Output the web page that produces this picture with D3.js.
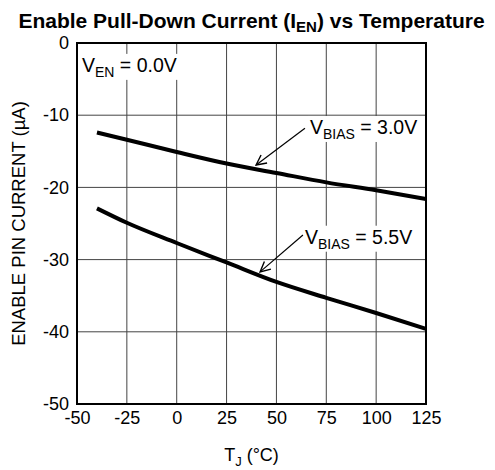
<!DOCTYPE html>
<html>
<head>
<meta charset="utf-8">
<script src="https://cdn.jsdelivr.net/npm/d3@7"></script>
<style>
  body { margin: 0; background: #fff; }
  text { font-family: "Liberation Sans", Arial, sans-serif; fill: #000; }
</style>
</head>
<body>
<svg id="chart" width="495" height="470"></svg>
<script>
// junction temperature (°C) and enable pin current (µA)
const temps = [-40, -25, 0, 25, 50, 75, 100, 125];
const iBias30 = [-12.4, -13.4, -15.1, -16.7, -18.0, -19.3, -20.4, -21.6];
const iBias55 = [-22.9, -24.9, -27.7, -30.4, -33.1, -35.3, -37.4, -39.6];
const xTicks = [-50, -25, 0, 25, 50, 75, 100, 125];
const yTicks = [0, -10, -20, -30, -40, -50];

// annotations, in data units: label position, arrow [tail T, tail I, tip T, tip I]
const notes = [
  {name: 'BIAS', value: ' = 3.0V', at: [66.8, -12.6], arrow: [64.3, -11.8, 39.8, -16.9]},
  {name: 'BIAS', value: ' = 5.5V', at: [64.3, -27.8], arrow: [63.3, -26.6, 41.8, -31.7]},
  {name: 'EN', value: ' = 0.0V', at: [-47.5, -4.0], arrow: null}
];

const margin = {top: 43, left: 77};
const width = 349, height = 361;

const svg = d3.select('#chart');
const chart = svg.append('g')
  .attr('transform', `translate(${margin.left},${margin.top})`);

const x = d3.scaleLinear().domain([-50, 125]).range([0, width]);
const y = d3.scaleLinear().domain([-50, 0]).range([height, 0]);

// grid
chart.append('g')
  .selectAll('line')
  .data(xTicks.slice(1, -1))
  .enter().append('line')
  .attr('x1', d => x(d)).attr('x2', d => x(d))
  .attr('y1', 0).attr('y2', height)
  .attr('stroke', '#444').attr('stroke-width', 1);

chart.append('g')
  .selectAll('line')
  .data(yTicks.slice(1, -1))
  .enter().append('line')
  .attr('y1', d => y(d)).attr('y2', d => y(d))
  .attr('x1', 0).attr('x2', width)
  .attr('stroke', '#444').attr('stroke-width', 1);

// axes (labels only), plain hyphen for negatives
const fmt = d => String(d);
const xAxis = chart.append('g')
  .attr('transform', `translate(0,${height})`)
  .call(d3.axisBottom(x).tickValues(xTicks).tickSize(0).tickPadding(7).tickFormat(fmt));
const yAxis = chart.append('g')
  .call(d3.axisLeft(y).tickValues(yTicks).tickSize(0).tickPadding(8).tickFormat(fmt));
[xAxis, yAxis].forEach(a => {
  a.select('.domain').remove();
  a.selectAll('text')
    .attr('font-size', 18)
    .attr('font-family', '"Liberation Sans", Arial, sans-serif')
    .attr('fill', '#000');
});
xAxis.selectAll('text').attr('dy', '0.71em');

// curves
const line = d3.line()
  .x((d, i) => x(temps[i]))
  .y(d => y(d))
  .curve(d3.curveMonotoneX);

[iBias30, iBias55].forEach(s => {
  chart.append('path')
    .datum(s)
    .attr('d', line)
    .attr('fill', 'none')
    .attr('stroke', '#000')
    .attr('stroke-width', 4);
});

// annotations
svg.append('defs').append('marker')
  .attr('id', 'arrow')
  .attr('viewBox', '0 0 12 12')
  .attr('refX', 11).attr('refY', 6)
  .attr('markerWidth', 12).attr('markerHeight', 12)
  .attr('markerUnits', 'userSpaceOnUse')
  .attr('orient', 'auto')
  .append('path')
  .attr('d', 'M1,1 L11,6 L1,11')
  .attr('fill', 'none')
  .attr('stroke', '#000')
  .attr('stroke-width', 1.4);

notes.forEach(n => {
  const g = chart.append('g');
  const bg = g.append('rect').attr('fill', '#fff');
  const t = g.append('text')
    .attr('x', x(n.at[0]))
    .attr('y', y(n.at[1]))
    .attr('font-size', 19.5);
  t.append('tspan').text('V');
  t.append('tspan').attr('font-size', 14).attr('dy', 5).text(n.name);
  t.append('tspan').attr('dy', -5).text(n.value);
  const b = t.node().getBBox();
  bg.attr('x', b.x - 2).attr('y', b.y).attr('width', b.width + 4).attr('height', b.height);
  if (n.arrow) {
    chart.append('line')
      .attr('x1', x(n.arrow[0])).attr('y1', y(n.arrow[1]))
      .attr('x2', x(n.arrow[2])).attr('y2', y(n.arrow[3]))
      .attr('stroke', '#000').attr('stroke-width', 1.2)
      .attr('marker-end', 'url(#arrow)');
  }
});

// frame
chart.append('rect')
  .attr('width', width).attr('height', height)
  .attr('fill', 'none')
  .attr('stroke', '#000')
  .attr('stroke-width', 2);

// titles
svg.append('text')
  .attr('x', margin.left + width / 2)
  .attr('y', 28)
  .attr('text-anchor', 'middle')
  .attr('font-size', 21)
  .attr('font-weight', 'bold')
  .call(t => {
    t.append('tspan').text('Enable Pull-Down Current (I');
    t.append('tspan').attr('font-size', 15).attr('dy', 4).text('EN');
    t.append('tspan').attr('dy', -4).text(') vs Temperature');
  });

svg.append('text')
  .attr('transform', `translate(25,${margin.top + height / 2}) rotate(-90)`)
  .attr('text-anchor', 'middle')
  .attr('font-size', 18.5)
  .text('ENABLE PIN CURRENT (µA)');

svg.append('text')
  .attr('x', margin.left + width / 2)
  .attr('y', 461)
  .attr('text-anchor', 'middle')
  .attr('font-size', 18)
  .call(t => {
    t.append('tspan').text('T');
    t.append('tspan').attr('font-size', 13).attr('dy', 5).text('J');
    t.append('tspan').attr('dy', -5).text(' (°C)');
  });
</script>
</body>
</html>
